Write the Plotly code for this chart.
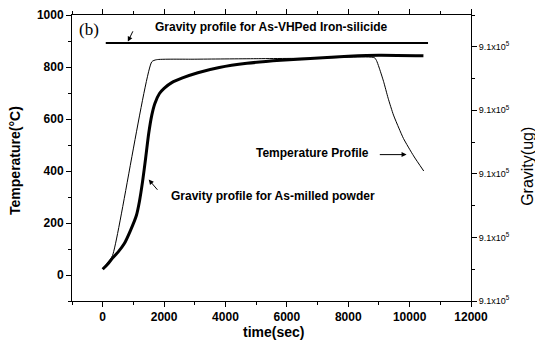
import plotly.graph_objects as go

# ---- data ----
temp_time = [0, 150, 320, 1600, 1750, 3000, 5000, 7000, 8850, 8920, 9000, 9150, 9300, 9475, 9650, 9800, 10130, 10460]
temp_val = [25, 45, 75, 820, 828, 830, 832, 834, 836, 825, 800, 745, 680, 615, 565, 525, 458, 400]

milled_time = [0, 150, 300, 500, 700, 900, 1100, 1200, 1300, 1400, 1500, 1600, 1700, 1850,
               2000, 2250, 2600, 3100, 3800, 4700, 5800, 6900, 8000, 9000, 10450]
milled_val = [22, 40, 62, 88, 120, 170, 230, 285, 360, 450, 545, 615, 660, 698,
              718, 740, 758, 778, 798, 814, 826, 834, 841, 845, 843]

vhped_time = [100, 10600]
vhped_val = [892, 892]

x_ticks = [0, 2000, 4000, 6000, 8000, 10000, 12000]
y_ticks = [0, 200, 400, 600, 800, 1000]
g_tickvals = [0, 1, 2, 3, 4]
g_ticktext = ["9.1x10<sup>5</sup>"] * 5

FONT = "Liberation Sans, Arial, sans-serif"

fig = go.Figure()
fig.add_trace(go.Scatter(x=temp_time, y=temp_val, mode="lines",
                         line=dict(color="black", width=1, shape="spline", smoothing=0.6), showlegend=False))
fig.add_trace(go.Scatter(x=milled_time, y=milled_val, mode="lines",
                         line=dict(color="black", width=3, shape="spline", smoothing=0.6), showlegend=False))
fig.add_trace(go.Scatter(x=vhped_time, y=vhped_val, mode="lines",
                         line=dict(color="black", width=2), showlegend=False))
fig.add_trace(go.Scatter(x=[None], y=[None], yaxis="y2", showlegend=False, hoverinfo="skip"))

tickfont = dict(family=FONT, size=12, color="black", weight="bold")

fig.update_layout(
    width=535, height=349,
    margin=dict(l=72, r=64, t=15, b=48, autoexpand=False),
    plot_bgcolor="white", paper_bgcolor="white",
    xaxis=dict(range=[-1000, 12000], tickvals=x_ticks, ticktext=[str(v) for v in x_ticks],
               ticks="outside", ticklen=5, automargin=False,
               tickcolor="black", showline=True, linecolor="black", linewidth=1,
               mirror="ticks", showgrid=False, zeroline=False, tickfont=tickfont,
               minor=dict(dtick=1000, ticks="outside", ticklen=3, tickcolor="black")),
    yaxis=dict(range=[-100, 1000], tickvals=y_ticks, ticktext=[str(v) for v in y_ticks],
               ticks="outside", ticklen=5, automargin=False,
               tickcolor="black", showline=True, linecolor="black", linewidth=1,
               showgrid=False, zeroline=False, tickfont=tickfont,
               minor=dict(dtick=100, ticks="outside", ticklen=3, tickcolor="black")),
    yaxis2=dict(overlaying="y", side="right", range=[0, 4.5], tickvals=g_tickvals,
                ticktext=g_ticktext, ticks="outside", ticklen=5, tickcolor="black", automargin=False,
                showline=True, linecolor="black", linewidth=1, showgrid=False, zeroline=False,
                tickfont=dict(family=FONT, size=9, color="black"),
                minor=dict(dtick=0.5, ticks="outside", ticklen=3, tickcolor="black")),
)

title_font = dict(family=FONT, size=14, color="black", weight="bold")
fig.add_annotation(xref="paper", yref="paper", x=-0.143, y=0.493, text="Temperature(°C)",
                   textangle=-90, showarrow=False, font=title_font, xanchor="center", yanchor="middle")
fig.add_annotation(xref="paper", yref="paper", x=0.504, y=-0.11, text="time(sec)",
                   showarrow=False, font=title_font, xanchor="center", yanchor="middle")
fig.add_annotation(xref="paper", yref="paper", x=1.14, y=0.472, text="Gravity(ug)",
                   textangle=-90, showarrow=False, font=dict(family=FONT, size=16, color="black"),
                   xanchor="center", yanchor="middle")

ann_font = dict(family=FONT, size=12, color="black", weight="bold")
fig.add_annotation(x=5508, y=955, text="Gravity profile for As-VHPed Iron-silicide",
                   showarrow=False, font=ann_font, xanchor="center", yanchor="middle")
fig.add_annotation(x=820, y=898, ax=1007, ay=943, axref="x", ayref="y", text="",
                   showarrow=True, arrowhead=2, arrowsize=1, arrowwidth=1, arrowcolor="black")
fig.add_annotation(x=6820, y=469, text="Temperature Profile", showarrow=False, font=ann_font,
                   xanchor="center", yanchor="middle")
fig.add_annotation(x=9900, y=463, ax=8980, ay=463, axref="x", ayref="y", text="",
                   showarrow=True, arrowhead=2, arrowsize=1, arrowwidth=1, arrowcolor="black")
fig.add_annotation(x=5541, y=302, text="Gravity profile for As-milled powder",
                   showarrow=False, font=ann_font, xanchor="center", yanchor="middle")
fig.add_annotation(x=1498, y=367, ax=1826, ay=322, axref="x", ayref="y", text="",
                   showarrow=True, arrowhead=2, arrowsize=1, arrowwidth=1, arrowcolor="black")
fig.add_annotation(x=-433, y=944, text="(b)", showarrow=False, xanchor="center", yanchor="middle",
                   font=dict(family="Liberation Serif, Times New Roman, serif", size=17, color="black"))

fig.write_html("out.html", config={"displayModeBar": False},
               post_script="document.body.style.margin='0px';document.body.style.overflow='hidden';")
